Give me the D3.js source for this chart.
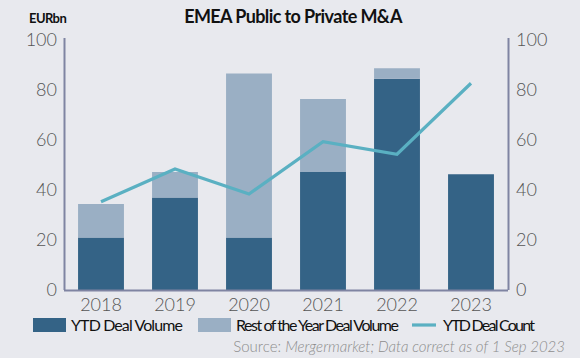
<!DOCTYPE html>
<html><head><meta charset="utf-8">
<script src="https://cdn.jsdelivr.net/npm/d3@7"></script>
<style>
html,body{margin:0;padding:0;background:#e8e9ee;}
svg{display:block;font-family:Lato,"Open Sans",sans-serif;}
</style></head>
<body><svg id="c" width="580" height="358"></svg>
<script>
const years = ["2018","2019","2020","2021","2022","2023"];
const ytdVolume = [21, 37, 21, 47.2, 84.5, 46.3];
const restVolume = [13.4, 10.2, 65.6, 29.2, 4.2, 0];
const ytdCount = [35.3, 48.4, 38.4, 59.3, 54.3, 82.7];
const leftTicks = [0, 20, 40, 60, 80, 100];
const rightTicks = [0, 20, 40, 60, 80, 100];

const svg = d3.select("#c");
const W = 580, H = 358;
svg.append("rect").attr("width", W).attr("height", H).attr("fill", "#e8e9ee");
const x0 = 64, x1 = 508, yTop = 40, yBot = 290;
const x = d3.scaleBand().domain(years).range([x0, x1]).paddingInner(0.38).paddingOuter(0.19);
const yL = d3.scaleLinear().domain([0, 100]).range([yBot, yTop]);
const yR = d3.scaleLinear().domain([0, 100]).range([yBot, yTop]);

const cDark = "#346386", cLight = "#9aafc4", cLine = "#5ab0c2", cAxis = "#7f84a2";

// bars
svg.append("g").selectAll("rect").data(years).join("rect")
  .attr("x", d => x(d)).attr("width", x.bandwidth())
  .attr("y", (d, i) => yL(ytdVolume[i])).attr("height", (d, i) => yL(0) - yL(ytdVolume[i]))
  .attr("fill", cDark);
svg.append("g").selectAll("rect").data(years).join("rect")
  .attr("x", d => x(d)).attr("width", x.bandwidth())
  .attr("y", (d, i) => yL(ytdVolume[i] + restVolume[i])).attr("height", (d, i) => yL(ytdVolume[i]) - yL(ytdVolume[i] + restVolume[i]))
  .attr("fill", cLight);

// line
const line = d3.line().x((d, i) => x(years[i]) + x.bandwidth() / 2).y(d => yR(d));
svg.append("path").datum(ytdCount).attr("d", line).attr("fill", "none")
  .attr("stroke", cLine).attr("stroke-width", 3.2);

// axes
const axL = svg.append("g").attr("transform", `translate(${x0},0)`)
  .call(d3.axisLeft(yL).tickValues(leftTicks).tickSize(0).tickPadding(7));
const axR = svg.append("g").attr("transform", `translate(${x1},0)`)
  .call(d3.axisRight(yR).tickValues(rightTicks).tickSize(0).tickPadding(8));
const axB = svg.append("g").attr("transform", `translate(0,${yBot})`)
  .call(d3.axisBottom(x).tickSize(0).tickPadding(8));
axB.select(".domain").attr("d", `M${x0},0.5H${x1}`);
[axL, axR, axB].forEach(a => {
  a.select(".domain").attr("stroke", cAxis).attr("stroke-width", 2);
  a.selectAll("text").attr("font-family", "Lato").attr("font-weight", 300)
    .attr("font-size", 18).attr("fill", "#555");
});
axL.select(".domain").attr("d", `M0.5,${yTop - 2}V${yBot}`);
axR.select(".domain").attr("d", `M0.5,${yTop - 2}V${yBot}`);

// title
svg.append("text").attr("x", 293).attr("y", 23).attr("text-anchor", "middle")
  .attr("font-weight", 700).attr("font-size", 18).attr("letter-spacing", -0.6).attr("fill", "#111")
  .text("EMEA Public to Private M&A");
svg.append("text").attr("x", 29).attr("y", 23)
  .attr("font-weight", 700).attr("font-size", 13).attr("letter-spacing", -0.6).attr("fill", "#111")
  .text("EURbn");

// legend
const lg = svg.append("g").attr("font-size", 16).attr("fill", "#111");
lg.append("rect").attr("x", 33).attr("y", 318).attr("width", 33).attr("height", 14).attr("fill", cDark);
lg.append("text").attr("x", 71).attr("y", 331).attr("textLength", 112).text("YTD Deal Volume");
lg.append("rect").attr("x", 198).attr("y", 318).attr("width", 33).attr("height", 14).attr("fill", cLight);
lg.append("text").attr("x", 236).attr("y", 331).attr("textLength", 163).text("Rest of the Year Deal Volume");
lg.append("line").attr("x1", 412).attr("x2", 436).attr("y1", 325).attr("y2", 325).attr("stroke", cLine).attr("stroke-width", 3.2);
lg.append("text").attr("x", 443).attr("y", 331).attr("textLength", 92).text("YTD Deal Count");

// source
const src = svg.append("text").attr("x", 565).attr("y", 352).attr("text-anchor", "end")
  .attr("font-size", 15).attr("font-weight", 300).attr("fill", "#8d8d8d");
src.append("tspan").text("Source: ");
src.append("tspan").attr("font-style", "italic").text("Mergermarket; Data correct as of 1 Sep 2023");
</script></body></html>
